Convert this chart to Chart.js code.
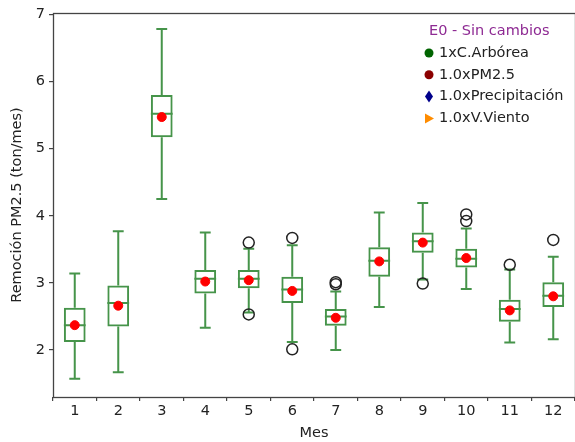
<!DOCTYPE html>
<html>
<head>
<meta charset="utf-8">
<script src="https://cdn.jsdelivr.net/npm/chart.js@4.4.0/dist/chart.umd.min.js"></script>
<style>
  html, body { margin: 0; padding: 0; background: #fff; overflow: hidden; }
  #wrap { width: 582px; height: 442px; }
</style>
</head>
<body>
<div id="wrap"><canvas id="chart" width="582" height="442"></canvas></div>
<script>
  // meses y estadisticos de cada caja
  const months = [1, 2, 3, 4, 5, 6, 7, 8, 9, 10, 11, 12];
  const whiskerLow = [1.57, 1.67, 4.25, 2.33, 2.56, 2.12, 2.00, 2.64, 3.05, 2.91, 2.11, 2.16];
  const q1 = [2.12, 2.35, 5.17, 2.84, 2.92, 2.70, 2.36, 3.09, 3.45, 3.23, 2.42, 2.64];
  const median = [2.37, 2.70, 5.52, 3.06, 3.06, 2.90, 2.50, 3.33, 3.62, 3.36, 2.61, 2.81];
  const q3 = [2.63, 2.96, 5.80, 3.19, 3.19, 3.09, 2.61, 3.53, 3.75, 3.51, 2.75, 3.01];
  const whiskerHigh = [3.14, 3.77, 6.78, 3.75, 3.51, 3.56, 2.87, 4.05, 4.19, 3.81, 3.20, 3.39];
  const means = [2.37, 2.66, 5.47, 3.02, 3.04, 2.88, 2.48, 3.32, 3.60, 3.37, 2.59, 2.80];
  const outlierMonth = [5, 5, 6, 6, 7, 7, 9, 10, 10, 11, 12];
  const outlierValue = [3.60, 2.53, 3.67, 2.01, 3.01, 2.98, 2.99, 4.02, 3.92, 3.27, 3.64];

  const yTicks = [2, 3, 4, 5, 6, 7];
  const legendTitle = 'E0 - Sin cambios';
  const legendLabels = ['1xC.Arbórea', '1.0xPM2.5', '1.0xPrecipitación', '1.0xV.Viento'];
  const legendColors = ['#006400', '#8b0000', '#00008b', '#ff8c00'];
  const legendShapes = ['circle', 'circle', 'diamond', 'triangle'];

  const boxColor = '#46944a';
  const font = "'DejaVu Sans', sans-serif";
  const fontSize = 14.5;

  // bigotes, topes y medianas
  const whiskerPlugin = {
    id: 'whiskers',
    beforeDatasetsDraw(chart) {
      const ctx = chart.ctx;
      const x = chart.scales.x;
      const y = chart.scales.y;
      ctx.save();
      ctx.strokeStyle = boxColor;
      ctx.lineWidth = 2;
      months.forEach((m, i) => {
        const cx = x.getPixelForValue(m);
        const capL = x.getPixelForValue(m - 0.125);
        const capR = x.getPixelForValue(m + 0.125);
        const boxL = x.getPixelForValue(m - 0.25);
        const boxR = x.getPixelForValue(m + 0.25);
        ctx.beginPath();
        ctx.moveTo(cx, y.getPixelForValue(q3[i]));
        ctx.lineTo(cx, y.getPixelForValue(whiskerHigh[i]));
        ctx.moveTo(capL, y.getPixelForValue(whiskerHigh[i]));
        ctx.lineTo(capR, y.getPixelForValue(whiskerHigh[i]));
        ctx.moveTo(cx, y.getPixelForValue(q1[i]));
        ctx.lineTo(cx, y.getPixelForValue(whiskerLow[i]));
        ctx.moveTo(capL, y.getPixelForValue(whiskerLow[i]));
        ctx.lineTo(capR, y.getPixelForValue(whiskerLow[i]));
        ctx.moveTo(boxL, y.getPixelForValue(median[i]));
        ctx.lineTo(boxR, y.getPixelForValue(median[i]));
        ctx.stroke();
      });
      ctx.restore();
    }
  };

  // marco completo (cuatro lados) y leyenda
  const framePlugin = {
    id: 'frame',
    afterDraw(chart) {
      const ctx = chart.ctx;
      const a = chart.chartArea;
      ctx.save();
      ctx.strokeStyle = '#444';
      ctx.lineWidth = 1.3;
      ctx.strokeRect(a.left + 0.5, a.top + 0.5, a.right - a.left, a.bottom - a.top);

      ctx.font = fontSize + 'px ' + font;
      ctx.textBaseline = 'middle';
      ctx.fillStyle = '#8e2a93';
      ctx.fillText(legendTitle, 429, 31);
      legendLabels.forEach((label, i) => {
        const ly = 53 + i * 21.8;
        const mx = 429;
        ctx.fillStyle = legendColors[i];
        ctx.beginPath();
        if (legendShapes[i] === 'circle') {
          ctx.arc(mx, ly, 4.5, 0, Math.PI * 2);
        } else if (legendShapes[i] === 'diamond') {
          ctx.moveTo(mx, ly - 6);
          ctx.lineTo(mx + 4, ly);
          ctx.lineTo(mx, ly + 6);
          ctx.lineTo(mx - 4, ly);
          ctx.closePath();
        } else {
          ctx.moveTo(mx - 4, ly - 5);
          ctx.lineTo(mx + 5, ly);
          ctx.lineTo(mx - 4, ly + 5);
          ctx.closePath();
        }
        ctx.fill();
        ctx.fillStyle = '#222';
        ctx.fillText(label, 439, ly);
      });
      ctx.restore();
    }
  };

  new Chart(document.getElementById('chart'), {
    type: 'bar',
    data: {
      datasets: [
        {
          type: 'scatter',
          label: 'media',
          data: months.map((m, i) => ({ x: m, y: means[i] })),
          backgroundColor: '#ff0000',
          borderColor: '#ff0000',
          pointRadius: 4.5,
          order: 0,
        },
        {
          type: 'scatter',
          label: 'atipicos',
          data: outlierMonth.map((m, i) => ({ x: m, y: outlierValue[i] })),
          backgroundColor: 'rgba(0,0,0,0)',
          borderColor: '#222',
          borderWidth: 1.5,
          pointRadius: 5.5,
          order: 1,
        },
        {
          type: 'bar',
          label: 'caja',
          data: months.map((m, i) => ({ x: m, y: [q1[i], q3[i]] })),
          backgroundColor: 'rgba(255,255,255,0)',
          borderColor: boxColor,
          borderWidth: 2,
          borderSkipped: false,
          barPercentage: 0.5,
          categoryPercentage: 1,
          order: 2,
        },
      ],
    },
    options: {
      responsive: false,
      animation: false,
      layout: { padding: { top: 13, right: 3 } },
      plugins: { legend: { display: false }, tooltip: { enabled: false } },
      scales: {
        x: {
          type: 'linear',
          min: 0.5,
          max: 12.5,
          offset: false,
          afterBuildTicks: s => { s.ticks = months.map(v => ({ value: v })); },
          afterFit: s => { s.height = 45; },
          grid: { display: true, drawOnChartArea: false, drawTicks: true, tickLength: 4, color: '#444', lineWidth: 1.2 },
          border: { display: false },
          ticks: { color: '#222', font: { family: font, size: fontSize }, padding: 2, maxRotation: 0 },
          title: { display: true, text: 'Mes', color: '#222', font: { family: font, size: fontSize }, padding: { top: 0, bottom: 0 } },
        },
        y: {
          min: 1.3,
          max: 7.02,
          afterBuildTicks: s => { s.ticks = yTicks.map(v => ({ value: v })); },
          afterFit: s => { s.width = 53; },
          grid: { display: true, drawOnChartArea: false, drawTicks: true, tickLength: 4, color: '#444', lineWidth: 1.2 },
          border: { display: false },
          ticks: { color: '#222', font: { family: font, size: fontSize }, padding: 4 },
          title: { display: true, text: 'Remoción PM2.5 (ton/mes)', color: '#222', font: { family: font, size: fontSize }, padding: { top: 9, bottom: 0 } },
        },
      },
    },
    plugins: [whiskerPlugin, framePlugin],
  });
</script>
</body>
</html>
